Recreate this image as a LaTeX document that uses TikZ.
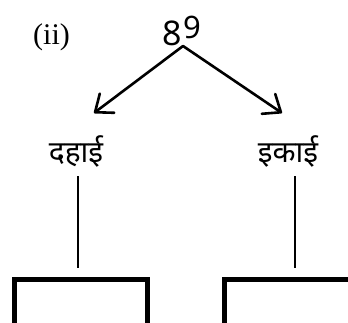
\documentclass[tikz,border=0pt]{standalone}
\usepackage{fontspec}
\newfontfamily\devfont[Script=Devanagari]{Noto Sans}
\newfontfamily\numfont{Noto Sans}
\newfontfamily\romfont{Liberation Serif}
\usetikzlibrary{arrows.meta}
\tikzset{
  lbl/.style={font=\devfont\fontsize{30}{34}\selectfont, inner sep=0pt, anchor=base},
  arr/.style={line width=2.6pt, line cap=round, line join=round, -{Straight Barb[length=15pt, width=24pt, line width=2.6pt, round]}},
  stem/.style={line width=1.4pt},
  boxopen/.style={line width=5pt},
}
\begin{document}
\begin{tikzpicture}[x=1pt,y=-1pt]
\useasboundingbox (0,0) rectangle (348,322);
\clip (0,0) rectangle (348,322);
\node[inner sep=0pt, anchor=base west, font=\romfont\fontsize{30}{34}\selectfont] (num) at (33,44) {(ii)};
\node[inner sep=0pt, anchor=base, font=\numfont\fontsize{34}{38}\selectfont] (n89) at (182,45) {8\kern1pt\raisebox{7pt}{\fontsize{31}{34}\selectfont 9}};
\coordinate (apex) at (183,46);
\coordinate (tl) at (94,113);
\coordinate (tr) at (282,113);
\draw[arr] (apex) -- (tl);
\draw[arr] (apex) -- (tr);
\node[lbl] (dahai) at (76,162) {दहाई};
\node[lbl] (ikai) at (288,162) {इकाई};
\coordinate (d1) at (78,176);
\coordinate (d2) at (78,268);
\coordinate (i1) at (295,176);
\coordinate (i2) at (295,268);
\draw[stem] (d1) -- (d2);
\draw[stem] (i1) -- (i2);
\draw[boxopen] (14.5,340) -- (14.5,279) -- (147.5,279) -- (147.5,340);
\draw[boxopen] (224.5,340) -- (224.5,279) -- (360,279);
\end{tikzpicture}
\end{document}
